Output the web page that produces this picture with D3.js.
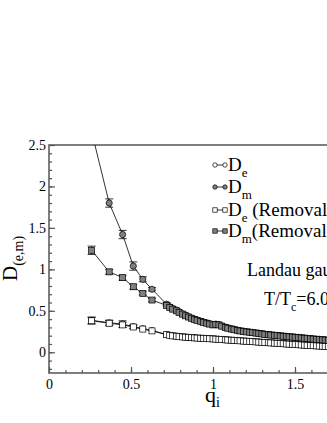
<!DOCTYPE html>
<html>
<head>
<meta charset="utf-8">
<script src="https://cdn.jsdelivr.net/npm/d3@7"></script>
<style>
  body { margin: 0; background: #fff; }
  svg { display: block; }
  text { font-family: "Liberation Serif", "DejaVu Serif", serif; fill: #000; }
</style>
</head>
<body>
<div id="chart"></div>
<script>
// momentum values (shared by all four series)
var qVals = [0.26, 0.367, 0.449, 0.514, 0.572, 0.628, 0.717, 0.736, 0.754, 0.778, 0.793, 0.814, 0.832,
  0.851, 0.868, 0.887, 0.903, 0.925, 0.941, 0.962, 0.978, 1.0, 1.017, 1.036, 1.053, 1.075, 1.09, 1.112,
  1.128, 1.149, 1.165, 1.186, 1.203, 1.224, 1.24, 1.262, 1.279, 1.298, 1.316, 1.337, 1.352, 1.374,
  1.391, 1.41, 1.428, 1.447, 1.464, 1.485, 1.501, 1.52, 1.538, 1.557, 1.574, 1.595, 1.611, 1.63,
  1.648, 1.667, 1.684, 1.703];

var dmVals = [2.66, 1.80, 1.42, 1.04, 0.88, 0.76, 0.58, 0.55, 0.53, 0.51, 0.49, 0.465, 0.45,
  0.43, 0.415, 0.40, 0.39, 0.375, 0.365, 0.355, 0.345, 0.335, 0.34, 0.335, 0.32, 0.305, 0.295, 0.285,
  0.277, 0.268, 0.26, 0.255, 0.25, 0.245, 0.24, 0.235, 0.23, 0.225, 0.22, 0.215, 0.212, 0.208,
  0.204, 0.2, 0.197, 0.193, 0.19, 0.187, 0.184, 0.18, 0.177, 0.173, 0.17, 0.166, 0.163, 0.16,
  0.157, 0.154, 0.151, 0.148];
var dmErr = [0.08, 0.05, 0.05, 0.05, 0.03, 0.02, 0.02];

var dmRemVals = [1.23, 0.97, 0.90, 0.79, 0.71, 0.63, 0.565, 0.54, 0.52, 0.5, 0.48, 0.46, 0.44,
  0.425, 0.41, 0.395, 0.385, 0.37, 0.36, 0.35, 0.34, 0.33, 0.335, 0.33, 0.315, 0.3, 0.29, 0.28,
  0.272, 0.264, 0.257, 0.251, 0.246, 0.241, 0.236, 0.231, 0.226, 0.221, 0.216, 0.211, 0.208, 0.204,
  0.2, 0.196, 0.193, 0.189, 0.186, 0.183, 0.18, 0.176, 0.173, 0.169, 0.166, 0.162, 0.159, 0.156,
  0.153, 0.15, 0.147, 0.144];
var dmRemErr = [0.05, 0.03, 0.03, 0.03, 0.02, 0.02];

var deVals = [0.385, 0.357, 0.34, 0.31, 0.285, 0.262, 0.215, 0.207, 0.2, 0.195, 0.19, 0.187, 0.184,
  0.181, 0.178, 0.176, 0.173, 0.171, 0.169, 0.167, 0.165, 0.163, 0.16, 0.158, 0.155, 0.152, 0.15,
  0.147, 0.145, 0.142, 0.14, 0.137, 0.135, 0.132, 0.13, 0.127, 0.125, 0.122, 0.12, 0.117, 0.115,
  0.112, 0.11, 0.107, 0.105, 0.102, 0.1, 0.098, 0.095, 0.093, 0.09, 0.088, 0.086, 0.083, 0.081,
  0.079, 0.077, 0.075, 0.073, 0.071];
var deErr = [0.04, 0.03, 0.04, 0.02];

var deRemVals = [0.38, 0.35, 0.33, 0.305, 0.28, 0.258, 0.212, 0.204, 0.198, 0.193, 0.188, 0.185, 0.182,
  0.179, 0.176, 0.174, 0.171, 0.169, 0.167, 0.165, 0.163, 0.161, 0.158, 0.156, 0.153, 0.15, 0.148,
  0.145, 0.143, 0.14, 0.138, 0.135, 0.133, 0.13, 0.128, 0.125, 0.123, 0.12, 0.118, 0.115, 0.113,
  0.11, 0.108, 0.105, 0.103, 0.1, 0.098, 0.096, 0.093, 0.091, 0.088, 0.086, 0.084, 0.081, 0.079,
  0.077, 0.075, 0.073, 0.071, 0.069];
var deRemErr = [0.04, 0.03, 0.03, 0.02];

var xTicks = [0, 0.5, 1, 1.5];
var yTicks = [0, 0.5, 1, 1.5, 2, 2.5];

var svgW = 327, svgH = 423;
var plotL = 49, plotT = 145, plotR = 377, plotB = 373;

var svg = d3.select("#chart").append("svg")
    .attr("width", svgW)
    .attr("height", svgH);

var x = d3.scaleLinear().domain([0, 2]).range([plotL, plotR]);
var y = d3.scaleLinear().domain([-0.25, 2.5]).range([plotB, plotT]);

svg.append("clipPath").attr("id", "plotclip")
  .append("rect")
    .attr("x", plotL).attr("y", plotT)
    .attr("width", plotR - plotL).attr("height", plotB - plotT);

// frame
svg.append("rect")
    .attr("x", plotL).attr("y", plotT)
    .attr("width", plotR - plotL).attr("height", plotB - plotT)
    .attr("fill", "none")
    .attr("stroke", "#555")
    .attr("stroke-width", 1.5);

// minor ticks
var xMinor = d3.range(1, 20).map(function(i) { return i / 10; });
var yMinor = d3.range(-2, 25).map(function(i) { return i / 10; });

svg.append("g")
    .attr("transform", "translate(0," + plotB + ")")
    .call(d3.axisBottom(x).tickValues(xMinor).tickSize(-3).tickFormat(""));
svg.append("g")
    .attr("transform", "translate(" + plotL + ",0)")
    .call(d3.axisLeft(y).tickValues(yMinor).tickSize(-3).tickFormat(""));

// major ticks with labels
svg.append("g")
    .attr("transform", "translate(0," + plotB + ")")
    .call(d3.axisBottom(x).tickValues(xTicks).tickSize(-6).tickPadding(6)
      .tickFormat(function(d) { return d3.format("")(d); }));
svg.append("g")
    .attr("transform", "translate(" + plotL + ",0)")
    .call(d3.axisLeft(y).tickValues(yTicks).tickSize(-6).tickPadding(3)
      .tickFormat(function(d) { return d3.format("")(d); }));

svg.selectAll(".domain").remove();
svg.selectAll(".tick line").attr("stroke", "#555").attr("stroke-width", 1.2);
svg.selectAll(".tick text")
    .style("font-family", "'Liberation Serif', serif")
    .style("font-size", "14px")
    .attr("fill", "#000");

// series
var series = [
  { vals: deVals, err: deErr, shape: "circle", fill: "#fff" },
  { vals: dmVals, err: dmErr, shape: "circle", fill: "#808080" },
  { vals: deRemVals, err: deRemErr, shape: "square", fill: "#fff" },
  { vals: dmRemVals, err: dmRemErr, shape: "square", fill: "#808080" }
];

var plot = svg.append("g").attr("clip-path", "url(#plotclip)");

var line = d3.line()
    .x(function(d) { return x(d[0]); })
    .y(function(d) { return y(d[1]); });

series.forEach(function(s) {
  var pts = qVals.map(function(q, i) { return [q, s.vals[i], s.err[i] || 0]; });

  plot.append("path")
      .datum(pts)
      .attr("d", line)
      .attr("fill", "none")
      .attr("stroke", "#000")
      .attr("stroke-width", 0.8);

  var eb = plot.append("g").attr("stroke", "#000").attr("stroke-width", 0.8);
  pts.filter(function(d) { return d[2] > 0; }).forEach(function(d) {
    var cx = x(d[0]);
    eb.append("line").attr("x1", cx).attr("x2", cx)
        .attr("y1", y(d[1] - d[2])).attr("y2", y(d[1] + d[2]));
    eb.append("line").attr("x1", cx - 4).attr("x2", cx + 4)
        .attr("y1", y(d[1] - d[2])).attr("y2", y(d[1] - d[2]));
    eb.append("line").attr("x1", cx - 4).attr("x2", cx + 4)
        .attr("y1", y(d[1] + d[2])).attr("y2", y(d[1] + d[2]));
  });

  if (s.shape === "circle") {
    plot.selectAll(null).data(pts).enter().append("circle")
        .attr("cx", function(d) { return x(d[0]); })
        .attr("cy", function(d) { return y(d[1]); })
        .attr("r", 3.1)
        .attr("fill", s.fill)
        .attr("stroke", "#000")
        .attr("stroke-width", 0.7);
  } else {
    plot.selectAll(null).data(pts).enter().append("rect")
        .attr("x", function(d) { return x(d[0]) - 3; })
        .attr("y", function(d) { return y(d[1]) - 3; })
        .attr("width", 6).attr("height", 6)
        .attr("fill", s.fill)
        .attr("stroke", "#000")
        .attr("stroke-width", 0.7);
  }
});

// legend
var legendRows = [
  { shape: "circle", fill: "#fff", sub: "e", tail: "" },
  { shape: "circle", fill: "#808080", sub: "m", tail: "" },
  { shape: "square", fill: "#fff", sub: "e", tail: " (Removal)" },
  { shape: "square", fill: "#808080", sub: "m", tail: "(Removal)" }
];
var legendY = [165, 187, 210, 231];

var legend = svg.append("g");
legendRows.forEach(function(r, i) {
  var ly = legendY[i];
  legend.append("line").attr("x1", 215).attr("x2", 225).attr("y1", ly).attr("y2", ly)
      .attr("stroke", "#000").attr("stroke-width", 0.8);
  [215, 225].forEach(function(lx) {
    if (r.shape === "circle") {
      legend.append("circle").attr("cx", lx).attr("cy", ly).attr("r", 2.2)
          .attr("fill", r.fill).attr("stroke", "#000").attr("stroke-width", 0.7);
    } else {
      legend.append("rect").attr("x", lx - 2.2).attr("y", ly - 2.2)
          .attr("width", 4.4).attr("height", 4.4)
          .attr("fill", r.fill).attr("stroke", "#000").attr("stroke-width", 0.7);
    }
  });
  var t = legend.append("text").attr("x", 228).attr("y", ly + 6).style("font-size", "19px");
  t.append("tspan").text("D");
  t.append("tspan").attr("dy", 6).style("font-size", "13px").text(r.sub);
  if (r.tail) t.append("tspan").attr("dy", -6).text(r.tail);
});

// annotations
svg.append("text").attr("x", 247).attr("y", 276).style("font-size", "18px").text("Landau gauge");
var tt = svg.append("text").attr("x", 264).attr("y", 305).style("font-size", "18px");
tt.append("tspan").text("T/T");
tt.append("tspan").attr("dy", 6).style("font-size", "12px").text("c");
tt.append("tspan").attr("dy", -6).text("=6.0");

// axis titles
var yl = svg.append("text")
    .attr("transform", "translate(17,281) rotate(-90)")
    .style("font-size", "21px");
yl.append("tspan").text("D");
yl.append("tspan").attr("dy", 6).style("font-size", "14px").text("(e,m)");

var xl = svg.append("text").attr("x", 205).attr("y", 402).style("font-size", "22px");
xl.append("tspan").text("q");
xl.append("tspan").attr("dy", 5).style("font-size", "14px").text("i");
</script>
</body>
</html>
